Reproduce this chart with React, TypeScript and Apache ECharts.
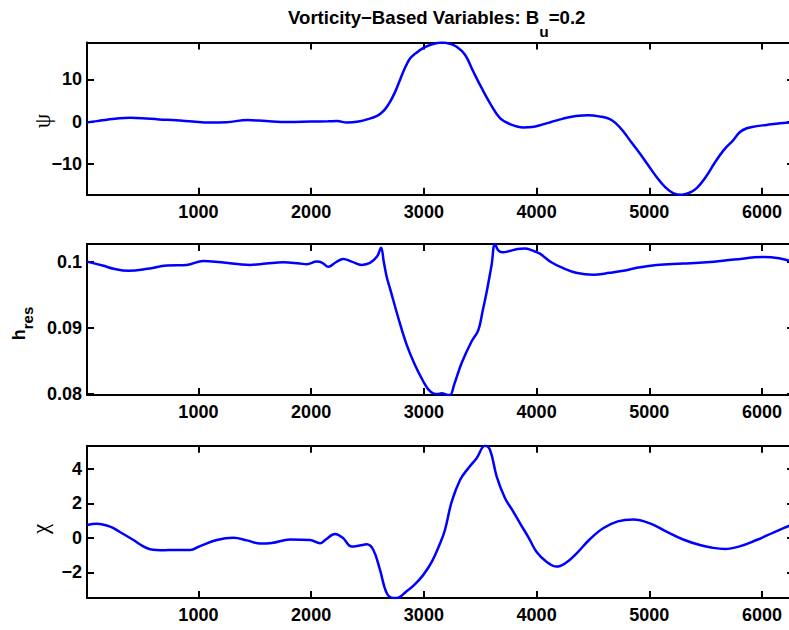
import React, { useEffect, useRef } from "react";
import * as echarts from "echarts";

// ---------- data ----------
const psiX = [12, 100, 200, 300, 395, 500, 650, 800, 950, 1100, 1250, 1440, 1600, 1800, 2000, 2150, 2230, 2320, 2420, 2520, 2580, 2611, 2655, 2700, 2744, 2788, 2833, 2877, 2921, 2993, 3073, 3158, 3230, 3291, 3365, 3438, 3512, 3586, 3675, 3764, 3882, 3960, 4030, 4130, 4236, 4350, 4457, 4560, 4650, 4710, 4768, 4842, 4916, 4990, 5064, 5140, 5211, 5285, 5350, 5418, 5500, 5580, 5660, 5745, 5804, 5864, 5940, 6041, 6160, 6283];
const psiY = [-0.2, 0.1, 0.5, 0.8, 0.9, 0.8, 0.5, 0.3, 0.0, -0.25, -0.15, 0.35, 0.1, -0.1, 0.0, 0.05, 0.1, -0.25, 0.0, 0.7, 1.3, 1.8, 2.9, 4.7, 7.0, 9.9, 12.8, 15.0, 16.1, 17.45, 18.4, 18.8, 18.5, 17.8, 15.9, 11.9, 8.0, 4.4, 0.8, -0.6, -1.4, -1.3, -0.9, -0.1, 0.7, 1.3, 1.5, 1.2, 0.6, -0.6, -2.3, -5.0, -7.6, -10.4, -13.2, -15.6, -17.0, -17.4, -17.0, -15.9, -13.2, -9.8, -6.8, -4.4, -2.5, -1.6, -1.15, -0.8, -0.4, -0.1];

const hX = [12, 150, 250, 380, 550, 720, 897, 1044, 1200, 1458, 1600, 1753, 1900, 1961, 2050, 2100, 2152, 2220, 2285, 2360, 2449, 2522, 2586, 2620, 2645, 2670, 2700, 2774, 2847, 2921, 2995, 3039, 3083, 3120, 3158, 3200, 3231, 3270, 3335, 3424, 3483, 3520, 3557, 3600, 3631, 3660, 3700, 3760, 3830, 3896, 3960, 4029, 4130, 4236, 4350, 4502, 4650, 4768, 4900, 5064, 5300, 5507, 5750, 6009, 6150, 6283];
const hY = [0.1001, 0.0995, 0.0990, 0.0987, 0.0990, 0.0995, 0.0996, 0.1002, 0.1000, 0.0996, 0.0998, 0.1000, 0.0998, 0.0997, 0.1001, 0.0999, 0.0993, 0.1000, 0.1005, 0.1001, 0.0996, 0.0999, 0.1009, 0.1022, 0.1000, 0.0978, 0.0960, 0.0915, 0.0875, 0.0844, 0.0819, 0.0807, 0.0801, 0.0800, 0.0801, 0.0799, 0.07985, 0.0815, 0.0847, 0.0880, 0.0897, 0.0925, 0.0955, 0.0995, 0.10277, 0.1018, 0.1015, 0.1017, 0.1020, 0.1021, 0.1018, 0.1013, 0.1000, 0.0991, 0.0984, 0.0981, 0.0984, 0.0987, 0.0992, 0.0996, 0.0998, 0.1000, 0.1004, 0.1008, 0.1006, 0.1000];

const chiX = [12, 99, 217, 300, 424, 500, 572, 700, 778, 926, 1015, 1163, 1310, 1430, 1547, 1650, 1813, 1990, 2079, 2130, 2212, 2280, 2360, 2430, 2493, 2552, 2611, 2670, 2729, 2759, 2847, 2920, 2995, 3070, 3143, 3187, 3247, 3321, 3394, 3468, 3542, 3587, 3646, 3720, 3790, 3853, 3930, 4000, 4090, 4177, 4260, 4355, 4470, 4590, 4720, 4856, 5000, 5152, 5300, 5448, 5560, 5669, 5800, 5950, 6100, 6237, 6283];
const chiY = [0.74, 0.82, 0.65, 0.35, -0.13, -0.45, -0.66, -0.72, -0.71, -0.71, -0.48, -0.13, 0.0, -0.15, -0.33, -0.3, -0.1, -0.13, -0.32, -0.1, 0.22, 0.0, -0.51, -0.45, -0.38, -0.71, -1.86, -3.2, -3.49, -3.49, -3.1, -2.7, -2.15, -1.4, -0.33, 0.45, 2.09, 3.35, 4.03, 4.61, 5.33, 5.09, 3.54, 2.29, 1.55, 0.84, 0.0, -0.82, -1.4, -1.67, -1.45, -0.9, -0.1, 0.55, 0.95, 1.06, 0.85, 0.36, -0.1, -0.42, -0.58, -0.65, -0.5, -0.13, 0.3, 0.68, 0.74];

const xTicks = [1000, 2000, 3000, 4000, 5000, 6000];
const psiTicks = [-10, 0, 10];
const hTicks = [0.08, 0.09, 0.1];
const chiTicks = [-2, 0, 2, 4];

const X_MIN = 12;
const X_MAX = 6283;

const FONT = "'Liberation Sans', Arial, Helvetica, sans-serif";
const GREEK = "'Liberation Serif', 'DejaVu Serif', serif";

function fmt(v: number): string {
  return v < 0 ? "\u2212" + String(Math.abs(v)) : String(v);
}

export default function App() {
  const ref = useRef<HTMLDivElement>(null);
  useEffect(() => {
    if (!ref.current) return;
    const chart = echarts.init(ref.current, null, { renderer: "svg" });

    const panels = [
      { top: 42.5, height: 152.2, min: -17.4, max: 18.8, ticks: psiTicks, xs: psiX, ys: psiY },
      { top: 244, height: 151, min: 0.07985, max: 0.10277, ticks: hTicks, xs: hX, ys: hY },
      { top: 445.8, height: 152.2, min: -3.49, max: 5.33, ticks: chiTicks, xs: chiX, ys: chiY },
    ];

    const lineStyle = { color: "#000", width: 2 };
    const labelFont = { fontFamily: FONT, fontWeight: "bold" as const, fontSize: 18, color: "#000" };

    const grid: any[] = [];
    const xAxis: any[] = [];
    const yAxis: any[] = [];
    const series: any[] = [];

    panels.forEach((p, i) => {
      grid.push({ left: 87, right: 6, top: p.top, height: p.height, containLabel: false });
      xAxis.push({
        type: "value", gridIndex: i, position: "bottom", min: X_MIN, max: X_MAX,
        axisLine: { show: true, onZero: false, lineStyle },
        axisTick: { show: true, inside: true, length: 7, lineStyle, customValues: xTicks },
        axisLabel: { show: true, margin: 8, customValues: xTicks, formatter: (v: number) => fmt(v), ...labelFont },
        splitLine: { show: false },
      });
      xAxis.push({
        type: "value", gridIndex: i, position: "top", min: X_MIN, max: X_MAX,
        axisLine: { show: true, onZero: false, lineStyle },
        axisTick: { show: true, inside: true, length: 7, lineStyle, customValues: xTicks },
        axisLabel: { show: false },
        splitLine: { show: false },
      });
      yAxis.push({
        type: "value", gridIndex: i, position: "left", min: p.min, max: p.max,
        axisLine: { show: true, onZero: false, lineStyle },
        axisTick: { show: true, inside: true, length: 7, lineStyle, customValues: p.ticks },
        axisLabel: { show: true, margin: 5, customValues: p.ticks, formatter: (v: number) => fmt(v), ...labelFont },
        splitLine: { show: false },
      });
      yAxis.push({
        type: "value", gridIndex: i, position: "right", min: p.min, max: p.max,
        axisLine: { show: true, onZero: false, lineStyle },
        axisTick: { show: true, inside: true, length: 7, lineStyle, customValues: p.ticks },
        axisLabel: { show: false },
        splitLine: { show: false },
      });
      series.push({
        type: "line",
        xAxisIndex: i * 2,
        yAxisIndex: i * 2,
        data: p.xs.map((x, k) => [x, p.ys[k]]),
        showSymbol: false,
        smooth: 0.4,
        lineStyle: { color: "#0000ff", width: 2.5 },
        itemStyle: { color: "#0000ff" },
        silent: true,
      });
    });

    const option: any = {
      animation: false,
      backgroundColor: "#fff",
      grid,
      xAxis,
      yAxis,
      series,
      graphic: [
        {
          type: "text",
          x: 288,
          y: 7.5,
          silent: true,
          style: {
            text: "{a|Vorticity\u2212Based Variables: B}{s|u}{a|=0.2}",
            align: "left",
            verticalAlign: "top",
            fill: "#000",
            rich: {
              a: { fontFamily: FONT, fontWeight: "bold", fontSize: 18.6, lineHeight: 18.6, verticalAlign: "top", fill: "#000" },
              s: { fontFamily: FONT, fontWeight: "bold", fontSize: 15.5, lineHeight: 15.5, padding: [16, 0, 0, 0], verticalAlign: "top", fill: "#000" },
            },
          },
        },
        {
          type: "text",
          x: 42,
          y: 121,
          rotation: Math.PI / 2,
          silent: true,
          style: { text: "\u03C8", fontFamily: GREEK, fontSize: 23, align: "center", verticalAlign: "middle", fill: "#000" },
        },
        {
          type: "text",
          x: 9.6,
          y: 323.5,
          rotation: Math.PI / 2,
          silent: true,
          style: {
            text: "{h|h}{s|res}",
            align: "center",
            verticalAlign: "top",
            fill: "#000",
            rich: {
              h: { fontFamily: FONT, fontWeight: "bold", fontSize: 18, lineHeight: 18, verticalAlign: "top", fill: "#000" },
              s: { fontFamily: FONT, fontWeight: "bold", fontSize: 15, lineHeight: 15, padding: [10, 0, 0, 0], verticalAlign: "top", fill: "#000" },
            },
          },
        },
        {
          type: "text",
          x: 40,
          y: 529,
          rotation: Math.PI / 2,
          silent: true,
          style: { text: "\u03C7", fontFamily: GREEK, fontSize: 23, align: "center", verticalAlign: "middle", fill: "#000" },
        },
      ],
    };

    chart.setOption(option);
    return () => chart.dispose();
  }, []);

  return (
    <div
      ref={ref}
      style={{ position: "fixed", left: 0, top: 0, width: 800, height: 630, background: "#fff" }}
    />
  );
}
